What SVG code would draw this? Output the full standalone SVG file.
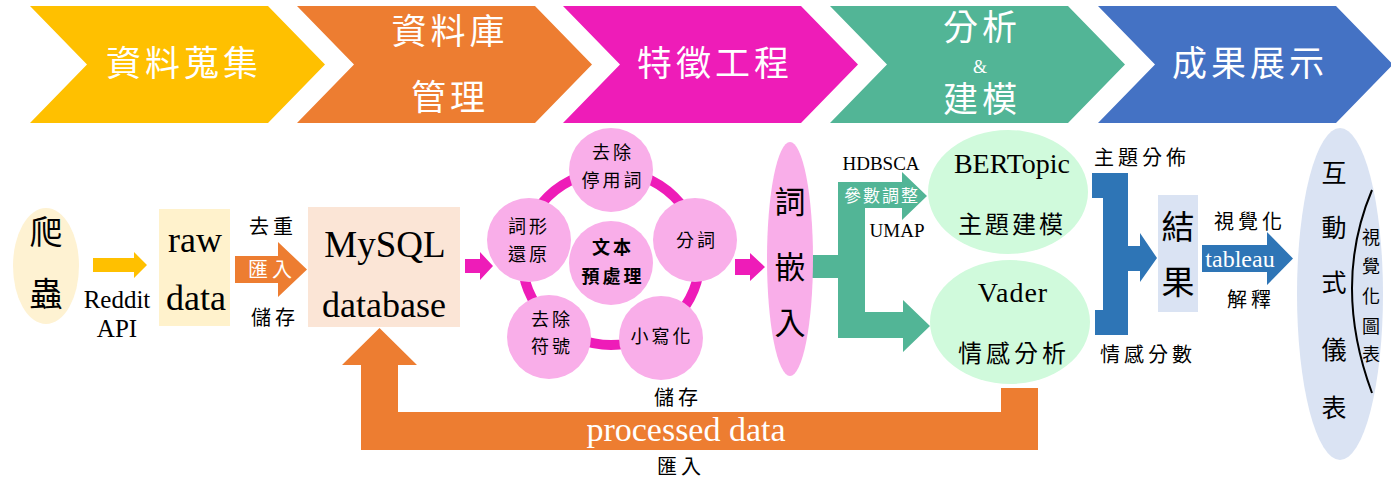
<svg xmlns="http://www.w3.org/2000/svg" width="1391" height="481" viewBox="0 0 1391 481">
<style>
text { font-family: 'Liberation Serif', 'Noto Sans CJK TC', serif; text-anchor: middle; fill: #000; }
.c { dominant-baseline: central; }
.hdr { fill: #fff; font-size: 35px; letter-spacing: 4px; dominant-baseline: central; }
.w { fill: #fff; }
.lbl { font-size: 20px; letter-spacing: 4px; dominant-baseline: central; }
.circ { fill: #F9AEE9; }
.ct { font-size: 18px; letter-spacing: 3px; dominant-baseline: central; }
</style>
<rect width="1391" height="481" fill="#fff"/>

<!-- header stages -->
<g id="stage-collect">
  <polygon fill="#FFC000" points="30,6 268,6 325,64.5 268,123 30,123 87,64.5"/>
  <text class="hdr" x="184" y="64">資料蒐集</text>
</g>
<g id="stage-db">
  <polygon fill="#ED7D31" points="297,6 535,6 592,64.5 535,123 297,123 354,64.5"/>
  <text class="hdr" x="450" y="32">資料庫</text>
  <text class="hdr" x="450" y="98">管理</text>
</g>
<g id="stage-feature">
  <polygon fill="#EE1CB8" points="563,6 801,6 858,64.5 801,123 563,123 620,64.5"/>
  <text class="hdr" x="715" y="64">特徵工程</text>
</g>
<g id="stage-model">
  <polygon fill="#52B596" points="830,6 1068,6 1125,64.5 1068,123 830,123 887,64.5"/>
  <text class="hdr" x="982" y="28">分析</text>
  <text class="w c" x="980" y="67" font-size="18">&amp;</text>
  <text class="hdr" x="982" y="100">建模</text>
</g>
<g id="stage-result">
  <polygon fill="#4472C4" points="1098,6 1336,6 1393,64.5 1336,123 1098,123 1155,64.5"/>
  <text class="hdr" x="1250" y="64">成果展示</text>
</g>

<!-- connectors -->
<g id="connectors">
  <polygon fill="#FFC000" points="93,258 134,258 134,252 147,265 134,278 134,272 93,272"/>
  <text x="117" y="308" font-size="25">Reddit</text>
  <text x="117" y="337" font-size="25">API</text>

  <polygon fill="#ED7D31" points="235,256 278,256 278,242 307,269.5 278,297 278,283 235,283"/>
  <text class="lbl" x="273" y="227">去重</text>
  <text class="lbl w" x="272" y="270">匯入</text>
  <text class="lbl" x="275" y="318">儲存</text>

  <polygon fill="#EE1CB8" points="465,259 480,259 480,252 493,266 480,280 480,273 465,273"/>
  <polygon fill="#EE1CB8" points="735,259 750,259 750,253 765,267 750,281 750,275 735,275"/>

  <path fill="#52B596" d="M810,255 H838 V182 H902 V172 L927,196 L902,220 V208 H865 V312 H903 V300 L930,326 L903,352 V338 H838 V278 H810 Z"/>
  <text x="881" y="170" font-size="19">HDBSCA</text>
  <text class="w c" x="882" y="196" font-size="17" letter-spacing="2">參數調整</text>
  <text x="897" y="237" font-size="19">UMAP</text>

  <path fill="#2E75B6" d="M1092,173 H1128 V246 H1140 V233 L1157,258 L1140,282 V271 H1128 V335 H1095 V310 H1103 V198 H1092 Z"/>
  <text class="lbl" x="1142" y="158" font-size="21">主題分佈</text>
  <text class="lbl" x="1148" y="355" font-size="21">情感分數</text>

  <polygon fill="#2E75B6" points="1202,245 1267,245 1267,232 1293,258.5 1267,285 1267,272 1202,272"/>
  <text class="w" x="1240" y="267" font-size="24">tableau</text>
  <text class="lbl" x="1250" y="222" font-size="21">視覺化</text>
  <text class="lbl" x="1251" y="300" letter-spacing="6">解釋</text>

  <path fill="#ED7D31" d="M1038,388 V450 H361 V365 H342 L379.5,328 L417,365 H398 V412 H1001 V388 Z"/>
  <text class="w" x="686" y="441" font-size="34">processed data</text>
  <text class="lbl" x="678" y="398">儲存</text>
  <text class="lbl" x="681" y="467">匯入</text>
</g>

<!-- nodes -->
<g id="crawler">
  <ellipse cx="46" cy="266" rx="33" ry="58" fill="#FEF2D2"/>
  <text class="c" x="46" y="233" font-size="33">爬</text>
  <text class="c" x="46" y="295" font-size="33">蟲</text>
</g>
<g id="raw-data">
  <rect x="159" y="209" width="71" height="117" fill="#FFF2CC"/>
  <text x="195" y="252" font-size="36">raw</text>
  <text x="196" y="310" font-size="36">data</text>
</g>
<g id="mysql">
  <rect x="308" y="207" width="152" height="120" fill="#FBE5D6"/>
  <text x="385" y="257" font-size="37">MySQL</text>
  <text x="384" y="317" font-size="36">database</text>
</g>
<g id="preprocess">
  <ellipse cx="611" cy="258" rx="89" ry="87" fill="none" stroke="#EE1CB8" stroke-width="10"/>
  <g id="stopwords">
    <circle class="circ" cx="611" cy="170" r="42"/>
    <text class="ct" x="613" y="153">去除</text>
    <text class="ct" x="613" y="181">停用詞</text>
  </g>
  <g id="tokenize">
    <circle class="circ" cx="695" cy="240" r="42"/>
    <text class="ct" x="697" y="241">分詞</text>
  </g>
  <g id="lowercase">
    <circle class="circ" cx="661" cy="338" r="42"/>
    <text class="ct" x="662" y="337">小寫化</text>
  </g>
  <g id="punct">
    <circle class="circ" cx="549" cy="337" r="42"/>
    <text class="ct" x="552" y="320">去除</text>
    <text class="ct" x="552" y="347">符號</text>
  </g>
  <g id="lemma">
    <circle class="circ" cx="529" cy="240" r="42"/>
    <text class="ct" x="529" y="227">詞形</text>
    <text class="ct" x="529" y="255">還原</text>
  </g>
  <g id="text-preprocess">
    <circle class="circ" cx="611" cy="263" r="42"/>
    <text class="ct" x="613" y="248" font-size="19" font-weight="bold" letter-spacing="2">文本</text>
    <text class="ct" x="613" y="277" font-size="19" font-weight="bold" letter-spacing="2">預處理</text>
  </g>
</g>
<g id="embedding">
  <ellipse cx="790" cy="259" rx="23" ry="117" fill="#F9AEE9"/>
  <text class="c" x="790" y="202" font-size="31">詞</text>
  <text class="c" x="790" y="267" font-size="31">嵌</text>
  <text class="c" x="790" y="323" font-size="31">入</text>
</g>
<g id="bertopic">
  <ellipse cx="1008" cy="192" rx="80" ry="62" fill="#D0FADC"/>
  <text x="1012" y="173" font-size="28">BERTopic</text>
  <text class="c" x="1012" y="225" font-size="24" letter-spacing="3">主題建模</text>
</g>
<g id="vader">
  <ellipse cx="1010" cy="322" rx="80" ry="62" fill="#D0FADC"/>
  <text x="1013" y="302" font-size="28" letter-spacing="1">Vader</text>
  <text class="c" x="1014" y="354" font-size="24" letter-spacing="4">情感分析</text>
</g>
<g id="result">
  <rect x="1158" y="195" width="40" height="117" fill="#DAE3F3"/>
  <text class="c" x="1178" y="228" font-size="33">結</text>
  <text class="c" x="1178" y="283" font-size="33">果</text>
</g>
<g id="dashboard">
  <ellipse cx="1340" cy="294" rx="43" ry="166" fill="#DAE3F3"/>
  <text class="c" x="1334" y="173" font-size="25">互</text>
  <text class="c" x="1334" y="228" font-size="25">動</text>
  <text class="c" x="1334" y="283" font-size="25">式</text>
  <text class="c" x="1334" y="350" font-size="25">儀</text>
  <text class="c" x="1334" y="408" font-size="25">表</text>
  <path d="M1372,190 Q1332,285 1372,393" fill="none" stroke="#000" stroke-width="2"/>
  <text class="c" x="1371" y="238" font-size="18">視</text>
  <text class="c" x="1371" y="267" font-size="18">覺</text>
  <text class="c" x="1371" y="297" font-size="18">化</text>
  <text class="c" x="1371" y="327" font-size="18">圖</text>
  <text class="c" x="1371" y="355" font-size="18">表</text>
</g>
</svg>
